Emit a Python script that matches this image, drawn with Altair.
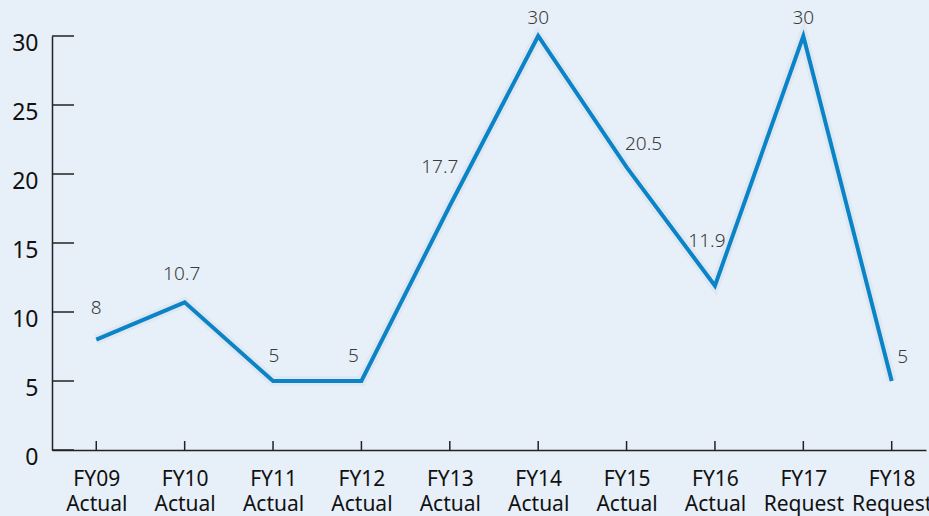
import altair as alt
import pandas as pd

years = ["FY09", "FY10", "FY11", "FY12", "FY13", "FY14", "FY15", "FY16", "FY17", "FY18"]
kinds = ["Actual", "Actual", "Actual", "Actual", "Actual", "Actual", "Actual", "Actual", "Request", "Request"]
values = [8, 10.7, 5, 5, 17.7, 30, 20.5, 11.9, 30, 5]
y_ticks = [0, 5, 10, 15, 20, 25, 30]

categories = [f"{y} {k}" for y, k in zip(years, kinds)]
labels = [("%g" % v) for v in values]
idx = list(range(len(categories)))
df = pd.DataFrame({"i": idx, "cat": categories, "value": values, "label": labels})
ticks_df = pd.DataFrame({"t": y_ticks})

W, H = 874, 414
LINE = "#0a84c6"
AX = "#222222"
FONT = "Noto Sans"

cat_js = "[" + ",".join("'" + c + "'" for c in categories) + "]"
x_scale = alt.Scale(domain=[-0.501, 9.388], nice=False, zero=False)
y_scale = alt.Scale(domain=[0, 30], nice=False)

x_enc = alt.X("i:Q", scale=x_scale,
              axis=alt.Axis(title=None, ticks=False, values=idx, domainColor=AX, domainWidth=1.5,
                            labelExpr=f"split({cat_js}[datum.value], ' ')", labelAngle=0,
                            labelFontSize=21, labelColor="#111111", labelFont=FONT,
                            labelPadding=18, labelLineHeight=25, grid=False, labelFlush=False,
                            labelOverlap=False))
y_enc = alt.Y("value:Q", scale=y_scale,
              axis=alt.Axis(title=None, ticks=False, values=y_ticks, domainColor=AX,
                            domainWidth=1.5, labelFontSize=23, labelColor="#111111",
                            labelFont=FONT, labelPadding=14, labelOffset=7, grid=False))

xq = alt.X("i:Q", scale=x_scale)
yq = alt.Y("value:Q", scale=y_scale)

base = alt.Chart(df)

line = base.mark_line(color=LINE, strokeWidth=4, strokeJoin="miter").encode(x=x_enc, y=y_enc)

shadow = base.mark_line(color="#6d8299", strokeWidth=10, opacity=0.06).encode(x=xq, y=yq)

ytick_rules = alt.Chart(ticks_df).mark_rule(color=AX, strokeWidth=1.5).encode(
    y=alt.Y("t:Q", scale=y_scale), x=alt.value(0), x2=alt.value(22))

xtick_rules = base.mark_rule(color=AX, strokeWidth=1.5).encode(
    x=xq, y=alt.value(H), y2=alt.value(H - 9))

# label placement (dx, dy) per category, to avoid the line
placement = {
    "FY09": (0, -32), "FY10": (-3, -28), "FY11": (1, -25), "FY12": (-8, -25),
    "FY13": (-10, -39), "FY14": (0, -18), "FY15": (17, -23), "FY16": (-8, -45),
    "FY17": (0, -18), "FY18": (11, -24),
}
text_layers = []
for cat in categories:
    dx, dy = placement[cat.split(" ")[0]]
    text_layers.append(
        base.transform_filter(alt.datum.cat == cat).mark_text(
            dx=dx, dy=dy, fontSize=19, font=FONT, color="#3a3a3a", fontWeight=300
        ).encode(x=xq, y=yq, text="label:N")
    )

chart = alt.layer(shadow, line, ytick_rules, xtick_rules, *text_layers).properties(
    width=W, height=H, background="#e7eff8",
    padding={"left": 52, "top": 36, "right": 3, "bottom": 66},
    autosize=alt.AutoSizeParams(type="none"),
).configure_view(stroke=None)

chart.save("out.html", embed_options={"renderer": "svg", "actions": False})
